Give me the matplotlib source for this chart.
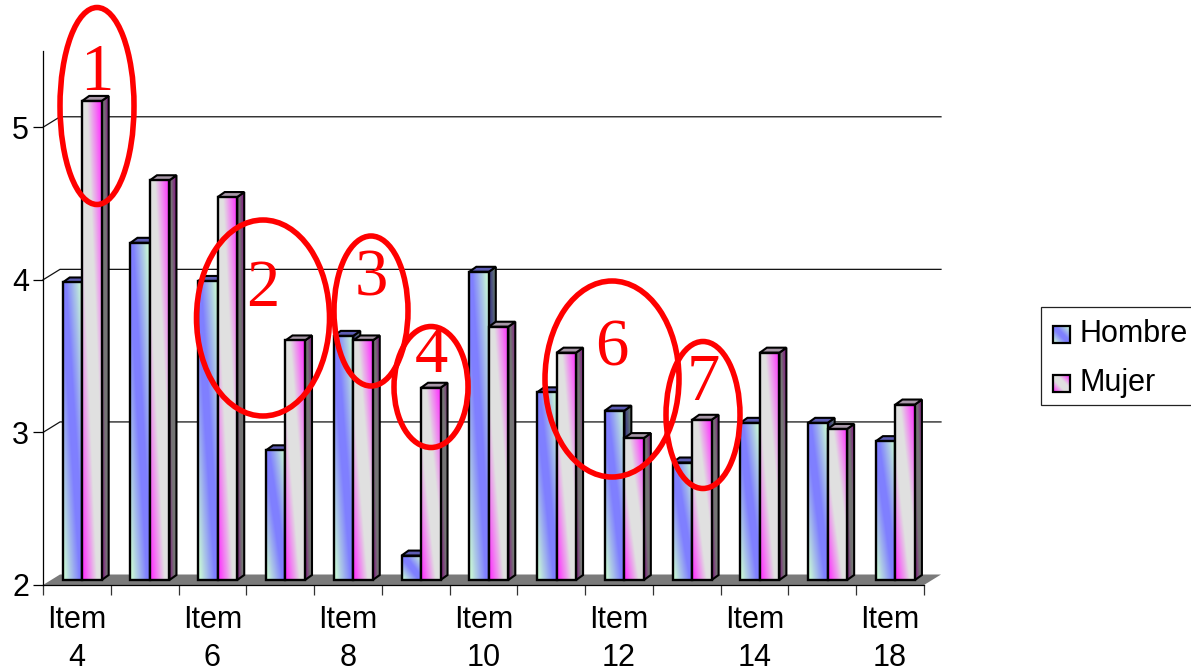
import numpy as np
import matplotlib
matplotlib.use("Agg")
import matplotlib.pyplot as plt
from matplotlib.patches import Polygon, Ellipse, Rectangle

plt.rcParams['font.family'] = ['Liberation Sans', 'DejaVu Sans']

categories = ["Item\n4", "", "Item\n6", "", "Item\n8", "", "Item\n10",
              "", "Item\n12", "", "Item\n14", "", "Item\n18"]
hombre = [3.95, 4.21, 3.96, 2.85, 3.60, 2.16, 4.02,
          3.23, 3.11, 2.77, 3.03, 3.03, 2.91]
mujer = [5.14, 4.62, 4.51, 3.57, 3.57, 3.26, 3.66,
         3.49, 2.93, 3.05, 3.49, 2.99, 3.15]
yticks = [2, 3, 4, 5]
series_names = ["Hombre", "Mujer"]

# (number, centre x, centre y, width, height, text y) in image pixels
circles = [("1", 97, 106, 74, 197, 74),
           ("2", 263, 318, 133, 196, 289),
           ("3", 371, 311, 74, 150, 279),
           ("4", 431, 387, 74, 121, 356),
           ("6", 612, 379, 134, 196, 349),
           ("7", 703, 415, 74, 147, 384)]

W, H = 1191, 672
fig = plt.figure(figsize=(W / 100, H / 100), dpi=100)
ax = fig.add_axes([43 / W, 1 - 585 / H, 881 / W, 534 / H])

xpx = 881 / 13   # pixels per category
ypx = 534 / 3.5  # pixels per unit

# 3d offsets, in data units
wall_dx, wall_dy = 17 / xpx, 10.5 / ypx
bar_dx, bar_dy = 5.3 / xpx, 5 / ypx
side_dx, side_dy = 7 / xpx, 5 / ypx
bar_w = 19.5 / xpx

BLUE = np.array([0.50, 0.50, 1.0])
GREEN = np.array([0.78, 0.96, 0.84])
MAGENTA = np.array([1.0, 0.2, 1.0])
GREY = np.array([0.88, 0.88, 0.88])


def gradient(kind, shade=1.0):
    # main colour on the diagonal, other colour out in the two far corners
    gx, gy = np.meshgrid(np.linspace(0, 1, 24), np.linspace(0, 1, 60))
    if kind == 0:
        s = np.clip((np.abs(gx - gy) - 0.15) / 0.75, 0, 1)[..., None]
        img = BLUE * (1 - s) + GREEN * s
    else:
        s = np.clip((np.abs(gx - gy) - 0.25) / 0.7, 0, 1)[..., None]
        img = GREY * (1 - s) + MAGENTA * s
    return img * shade


def draw_bar(x0, val, kind, z):
    x1 = x0 + bar_w
    y0 = 2 + bar_dy
    y1 = val + bar_dy
    # side face
    side = Polygon([(x1, y0), (x1 + side_dx, y0 + side_dy),
                    (x1 + side_dx, y1 + side_dy), (x1, y1)],
                   fc="none", ec="black", lw=1.5, clip_on=False, zorder=z + 0.2)
    ax.add_patch(side)
    im = ax.imshow(gradient(kind, 0.52), extent=(x1, x1 + side_dx, y0, y1 + side_dy),
                   aspect="auto", interpolation="bilinear", zorder=z + 0.1)
    im.set_clip_path(side)
    # top face
    top_color = "#5c5cb4" if kind == 0 else "#a898a8"
    ax.add_patch(Polygon([(x0, y1), (x1, y1), (x1 + side_dx, y1 + side_dy),
                          (x0 + side_dx, y1 + side_dy)],
                         fc=top_color, ec="black", lw=1.5, clip_on=False, zorder=z + 0.3))
    # front face
    ax.imshow(gradient(kind), extent=(x0, x1, y0, y1), aspect="auto",
              interpolation="bilinear", zorder=z + 0.4, clip_on=False)
    ax.add_patch(Rectangle((x0, y0), bar_w, y1 - y0, fc="none", ec="black",
                           lw=1.7, clip_on=False, zorder=z + 0.5))


# floor
ax.add_patch(Polygon([(0, 2), (wall_dx, 2 + wall_dy), (13 + wall_dx, 2 + wall_dy), (13, 2)],
                     fc="#7a7a7a", ec="none", clip_on=False, zorder=1))

# gridlines run along the back wall
for t in yticks[1:]:
    ax.plot([0, wall_dx, 13 + wall_dx], [t, t + wall_dy, t + wall_dy],
            color="#111111", lw=0.9, clip_on=False, zorder=2)

z = 3
for i in range(len(categories)):
    left = i + 0.5 + bar_dx - bar_w
    draw_bar(left, hombre[i], 0, z)
    draw_bar(left + bar_w, mujer[i], 1, z + 1)
    z += 2

ax.set_xlim(0, 13)
ax.set_ylim(2, 5.5)
ax.set_facecolor("none")
ax.spines["top"].set_visible(False)
ax.spines["right"].set_visible(False)
for sp in ax.spines.values():
    sp.set_linewidth(0.9)
    sp.set_zorder(100)
ax.set_yticks(yticks)
ax.tick_params(axis="y", length=7, width=0.9, labelsize=22, pad=3)
ax.set_xticks(np.arange(13) + 0.5)
ax.set_xticklabels(categories, fontsize=22, linespacing=1.33)
ax.set_xticks(np.arange(14), minor=True)
ax.tick_params(axis="x", which="major", length=0, pad=14.5)
ax.tick_params(axis="x", which="minor", length=7, width=0.9, color="#333333")

# overlay in image pixels for the hand drawn marks and the legend
over = fig.add_axes([0, 0, 1, 1])
over.set_xlim(0, W)
over.set_ylim(H, 0)
over.axis("off")

for num, cx, cy, w, h, ty in circles:
    over.add_patch(Ellipse((cx, cy), w, h, fc="none", ec="#ff0000", lw=4.0))
    over.text(cx, ty, num, color="#ff0000", family="Liberation Serif", fontsize=48,
              ha="center", va="center")

over.add_patch(Rectangle((1040.5, 307), 170, 98, fc="white", ec="#222222", lw=0.9))
for kind, name, sy in zip([0, 1], series_names, [334.5, 383.5]):
    over.imshow(gradient(kind), extent=(1053, 1070, sy + 8.5, sy - 8.5), aspect="auto",
                interpolation="bilinear", zorder=3)
    over.add_patch(Rectangle((1053, sy - 8.5), 17, 17, fc="none", ec="black", lw=1.6, zorder=4))
    over.text(1080, sy - 1, name, fontsize=22, ha="left", va="center", zorder=4)
over.set_xlim(0, W)
over.set_ylim(H, 0)

fig.savefig("out.png", dpi=100)
